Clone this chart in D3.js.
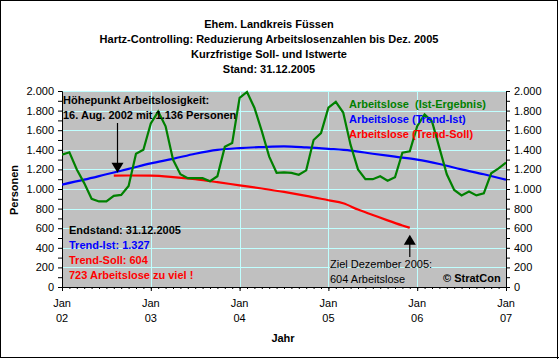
<!DOCTYPE html>
<html><head><meta charset="utf-8">
<script src="https://cdn.jsdelivr.net/npm/d3@7"></script>
<style>body{margin:0;background:#fff}svg{display:block;font-family:"Liberation Sans",Arial,sans-serif}</style>
</head><body><svg id="c" width="559" height="359"></svg>
<script>
// ---- data ----
const titleLines = ["Ehem. Landkreis Füssen","Hartz-Controlling: Reduzierung Arbeitslosenzahlen bis Dez. 2005","Kurzfristige Soll- und Istwerte","Stand: 31.12.2005"];
const yearLabels = ["02","03","04","05","06","07"];
// months since Jan 2002
const istMonths = d3.range(0,61);
const istValues = [1350,1375,1200,1060,900,873,873,930,940,1030,1360,1400,1670,1790,1640,1300,1150,1110,1110,1110,1080,1130,1430,1470,1930,1990,1830,1590,1330,1165,1170,1165,1145,1190,1500,1570,1830,1890,1780,1450,1200,1100,1100,1130,1085,1120,1370,1385,1640,1760,1690,1420,1150,990,935,975,935,955,1160,1210,1270];
const trendIstMonths = [0,3,6,9,12,15,18,21,24,27,30,33,36,39,42,45,48,51,54,57,60];
const trendIstValues = [1045,1095,1150,1205,1262,1308,1360,1400,1418,1428,1435,1425,1410,1392,1360,1330,1300,1255,1200,1150,1095];
const trendSollMonths = [7,9,12,15,18,21,24,27,30,33,36,38,40,42,44,46,47];
const trendSollValues = [1136,1138,1136,1122,1100,1070,1037,1005,970,930,885,855,790,735,680,628,604];
const legendLabels = ["Arbeitslose  (Ist-Ergebnis)","Arbeitslose (Trend-Ist)","Arbeitslose (Trend-Soll)"];
const colors = ["#008000","#0000ff","#ff0000"];

const svg = d3.select("#c");
const L=62,R=506,T=91,B=287;
const x = d3.scaleLinear().domain([0,60]).range([L,R]);
const y = d3.scaleLinear().domain([0,2000]).range([B,T]);
const de = d3.formatLocale({decimal:",",thousands:".",grouping:[3],currency:["","€"]});
const fmt = de.format(",");

// frame
svg.append("rect").attr("x",0.5).attr("y",0.5).attr("width",557).attr("height",357).attr("fill","#fff").attr("stroke","#000");
svg.append("line").attr("x1",557.5).attr("x2",557.5).attr("y1",1).attr("y2",359).attr("stroke","#000");
svg.append("line").attr("x1",1).attr("x2",559).attr("y1",357.5).attr("y2",357.5).attr("stroke","#000");

// titles
svg.append("g").selectAll("text").data(titleLines).join("text")
  .attr("x",269).attr("y",(d,i)=>28+i*15).attr("text-anchor","middle")
  .attr("font-size",11).attr("font-weight","bold").attr("fill","#000").text(d=>d);

// plot bg
svg.append("rect").attr("x",L).attr("y",T).attr("width",R-L).attr("height",B-T).attr("fill","#c0c0c0");
// grid
const grid = svg.append("g").attr("stroke","#c0ffff").attr("stroke-width",1);
grid.selectAll("line.h").data(d3.range(200,2001,200)).join("line")
  .attr("x1",L).attr("x2",R).attr("y1",d=>Math.round(y(d))+0.5).attr("y2",d=>Math.round(y(d))+0.5);
grid.selectAll("line.v").data(d3.range(12,60,12)).join("line")
  .attr("y1",T).attr("y2",B).attr("x1",d=>Math.round(x(d))+0.5).attr("x2",d=>Math.round(x(d))+0.5);

// axes
const yTicks = d3.range(0,2001,100);
const tf = d=> d%200===0 ? fmt(d) : "";
const ax1 = svg.append("g").attr("transform",`translate(${L},0)`).call(d3.axisLeft(y).tickValues(yTicks).tickSize(4).tickPadding(4).tickFormat(tf));
const ax2 = svg.append("g").attr("transform",`translate(${R},0)`).call(d3.axisRight(y).tickValues(yTicks).tickSize(4).tickPadding(4).tickFormat(tf));
svg.append("g").attr("transform",`translate(0,${B})`).call(d3.axisBottom(x).tickValues(d3.range(0,61)).tickSize(2).tickFormat(""));
svg.append("g").attr("transform",`translate(0,${B})`).call(d3.axisBottom(x).tickValues(d3.range(0,61,12)).tickSize(4).tickFormat(""));
[ax1,ax2].forEach(a=>a.selectAll("text").attr("font-size",11).attr("fill","#000").attr("font-family","Liberation Sans, Arial, sans-serif"));
svg.selectAll(".domain").attr("stroke","#000");
svg.selectAll(".tick line").attr("stroke","#000");
// x labels
const xl = svg.append("g").selectAll("g").data(yearLabels).join("g");
xl.append("text").attr("x",(d,i)=>x(i*12)).attr("y",307).attr("text-anchor","middle").attr("font-size",11).text("Jan");
xl.append("text").attr("x",(d,i)=>x(i*12)).attr("y",322).attr("text-anchor","middle").attr("font-size",11).text(d=>d);

// axis titles
svg.append("text").attr("x",283).attr("y",342).attr("text-anchor","middle").attr("font-size",11).attr("font-weight","bold").text("Jahr");
svg.append("text").attr("transform","translate(18,190) rotate(-90)").attr("text-anchor","middle").attr("font-size",11).attr("font-weight","bold").text("Personen");

// clip
svg.append("clipPath").attr("id","pc").append("rect").attr("x",L).attr("y",T-3).attr("width",R-L).attr("height",B-T+3);
const pg = svg.append("g").attr("clip-path","url(#pc)");

const lineLin = d3.line().x(d=>x(d[0])).y(d=>y(d[1]));
const lineSm = d3.line().x(d=>x(d[0])).y(d=>y(d[1])).curve(d3.curveMonotoneX);
pg.append("path").datum(d3.zip(trendSollMonths,trendSollValues)).attr("d",lineSm).attr("fill","none").attr("stroke",colors[2]).attr("stroke-width",2.2);
pg.append("path").datum(d3.zip(trendIstMonths,trendIstValues)).attr("d",lineSm).attr("fill","none").attr("stroke",colors[1]).attr("stroke-width",2.2);
pg.append("path").datum(d3.zip(istMonths,istValues)).attr("d",lineLin).attr("fill","none").attr("stroke",colors[0]).attr("stroke-width",2.2);

// legend
svg.append("g").selectAll("text").data(legendLabels).join("text")
  .attr("x",349).attr("y",(d,i)=>108+i*15).attr("font-size",11).attr("font-weight","bold")
  .attr("fill",(d,i)=>colors[i]).attr("xml:space","preserve").style("white-space","pre").text(d=>d);

// annotations
const ann = svg.append("g").attr("font-size",11);
ann.append("text").attr("x",63).attr("y",104).attr("font-weight","bold").text("Höhepunkt Arbeitslosigkeit:");
ann.append("text").attr("x",63).attr("y",119).attr("font-weight","bold").text("16. Aug. 2002 mit 1.136 Personen");
const pkX = x(7.5), pkY = y(1136);
ann.append("line").attr("x1",pkX).attr("x2",pkX).attr("y1",123).attr("y2",pkY-12).attr("stroke","#000").attr("stroke-width",1.2);
ann.append("path").attr("d",`M${pkX-6},${pkY-13}L${pkX+6},${pkY-13}L${pkX},${pkY-3}Z`).attr("fill","#000");

const endLines = [["Endstand: 31.12.2005","#000"],["Trend-Ist: 1.327","#0000ff"],["Trend-Soll: 604","#ff0000"],["723 Arbeitslose zu viel !","#ff0000"]];
ann.selectAll("text.e").data(endLines).join("text").attr("class","e")
  .attr("x",69).attr("y",(d,i)=>234+i*15).attr("font-weight","bold").attr("fill",d=>d[1]).text(d=>d[0]);

ann.append("text").attr("x",330).attr("y",268).text("Ziel Dezember 2005:");
ann.append("text").attr("x",330).attr("y",283).text("604 Arbeitslose");
const zX = x(47), zY = y(604);
ann.append("line").attr("x1",zX).attr("x2",zX).attr("y1",257).attr("y2",zY+16).attr("stroke","#000").attr("stroke-width",1.2);
ann.append("path").attr("d",`M${zX-6},${zY+17}L${zX+6},${zY+17}L${zX},${zY+7}Z`).attr("fill","#000");

pg.append("text").attr("x",443).attr("y",282).attr("font-size",11).attr("font-weight","bold").text("© StratCon");
</script></body></html>
